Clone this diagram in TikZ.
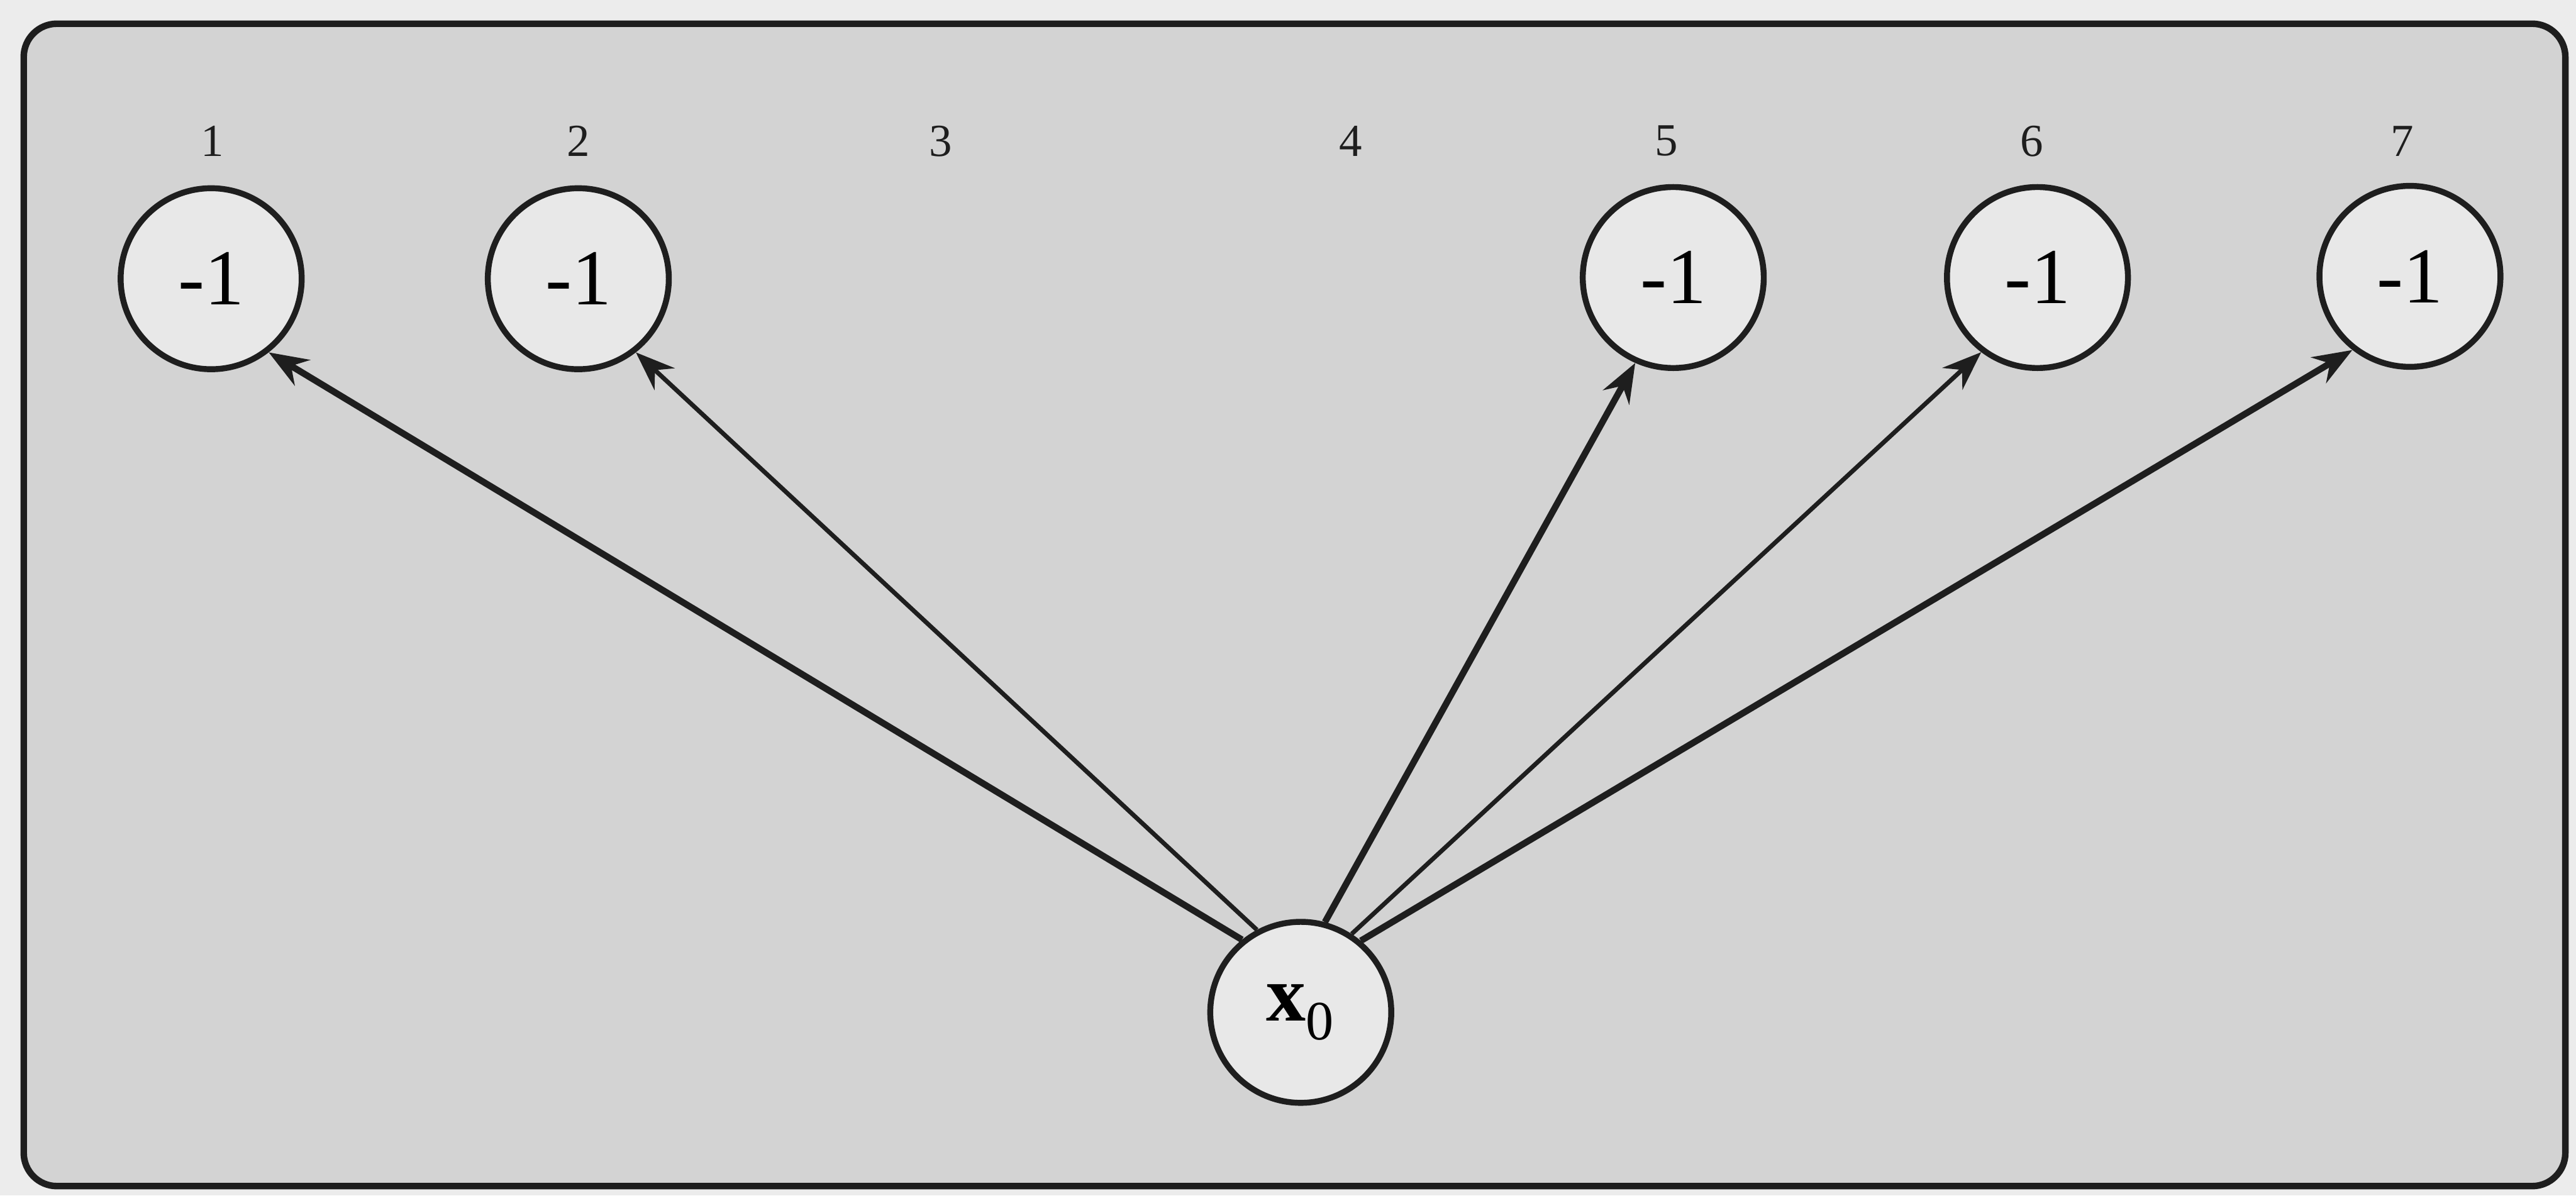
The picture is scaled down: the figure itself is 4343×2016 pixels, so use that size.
\documentclass[tikz,border=0pt]{standalone}
\usepackage{fontspec}
\setmainfont{Liberation Serif}
\usetikzlibrary{arrows.meta}
\definecolor{outbg}{HTML}{ECECEC}
\definecolor{panel}{HTML}{D3D3D3}
\definecolor{disc}{HTML}{E8E8E8}
\definecolor{ink}{HTML}{1E1E1E}
\begin{document}
\begin{tikzpicture}[x=0.01cm,y=-0.01cm,
  unit/.style={circle,draw=ink,line width=0.1cm,fill=disc,inner sep=0pt,minimum size=3.05cm,font=\fontsize{38}{40}\selectfont},
  idx/.style={font=\fontsize{22}{24}\selectfont,text=ink,inner sep=0pt},
  link/.style={draw=ink,-{Stealth[length=0.66cm,width=0.5cm,inset=0.22cm]}},
  thick link/.style={link,line width=0.11cm},
  thin link/.style={link,line width=0.075cm}]
\fill[outbg] (0,0) rectangle (4343,2016);
\useasboundingbox (0,0) rectangle (4343,2016);
\draw[draw=ink,fill=panel,line width=0.11cm,rounded corners=0.56cm] (40,40) rectangle (4325,2000);
% index labels
\node[idx] (l1) at (358,238) {1};
\node[idx] (l2) at (975,238) {2};
\node[idx] (l3) at (1586,238) {3};
\node[idx] (l4) at (2277,238) {4};
\node[idx] (l5) at (2809,238) {5};
\node[idx] (l6) at (3426,238) {6};
\node[idx] (l7) at (4050,238) {7};
% units
\node[unit] (n1) at (356,470) {-1};
\node[unit] (n2) at (975,470) {-1};
\node[unit] (n5) at (2821,468) {-1};
\node[unit] (n6) at (3435,468) {-1};
\node[unit] (n7) at (4063,466) {-1};
\node[unit] (x0) at (2193,1707) {\textbf{x}$_{\mathrm{0}}$};
% connectors
\draw[thick link] (x0.129) -- (n1.-52);
\draw[thin link] (x0.118) -- (n2.-52);
\draw[thick link] (x0.75) -- (n5.-114);
\draw[thin link] (x0.57) -- (n6.-127);
\draw[thick link] (x0.50) -- (n7.-128);
\end{tikzpicture}
\end{document}
